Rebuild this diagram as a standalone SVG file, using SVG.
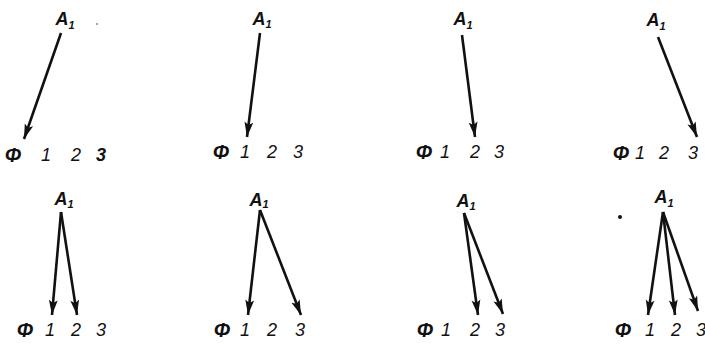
<svg xmlns="http://www.w3.org/2000/svg" width="705" height="345" viewBox="0 0 705 345">
<style>
text{font-family:"Liberation Sans","DejaVu Sans",sans-serif;font-style:italic;fill:#111;text-anchor:middle}
.a{font-size:18px;font-weight:bold;text-anchor:start}
.a tspan{font-size:11px}
.l{font-size:18px}
.p{font-size:20px;font-weight:bold}
.c line{stroke:#111;stroke-width:2.6;marker-end:url(#ah)}
</style>
<defs>
<marker id="ah" markerUnits="userSpaceOnUse" markerWidth="20" markerHeight="12" viewBox="-16 -6 17 12" refX="0" refY="0" orient="auto">
<path d="M0,0 L-15,-4.4 L-12,0 L-15,4.4 Z" fill="#111"/>
</marker>
</defs>
<rect width="705" height="345" fill="#fff"/>

<!-- Panel 1 -->
<g id="p1-A1"><text class="a" x="55.5" y="25">A<tspan dy="4">1</tspan></text></g>
<g id="p1-labels"><text class="p" x="13" y="162">Φ</text><text class="l" x="46" y="161">1</text><text class="l" x="76" y="161">2</text><text class="l" x="101" y="161" font-weight="bold">3</text></g>
<!-- Panel 2 -->
<g id="p2-A1"><text class="a" x="252.5" y="25">A<tspan dy="3">1</tspan></text></g>
<g id="p2-labels"><text class="p" x="221" y="159">Φ</text><text class="l" x="245" y="158">1</text><text class="l" x="272" y="158">2</text><text class="l" x="298" y="158">3</text></g>
<!-- Panel 3 -->
<g id="p3-A1"><text class="a" x="453.5" y="25">A<tspan dy="4">1</tspan></text></g>
<g id="p3-labels"><text class="p" x="424" y="159">Φ</text><text class="l" x="445" y="158">1</text><text class="l" x="475" y="158">2</text><text class="l" x="499" y="158">3</text></g>
<!-- Panel 4 -->
<g id="p4-A1"><text class="a" x="646.5" y="26">A<tspan dy="4">1</tspan></text></g>
<g id="p4-labels"><text class="p" x="621" y="160">Φ</text><text class="l" x="640" y="159">1</text><text class="l" x="664" y="159">2</text><text class="l" x="693" y="159">3</text></g>
<!-- Panel 5 -->
<g id="p5-A1"><text class="a" x="54.5" y="205">A<tspan dy="3">1</tspan></text></g>
<g id="p5-labels"><text class="p" x="25" y="337">Φ</text><text class="l" x="50" y="336">1</text><text class="l" x="76" y="336">2</text><text class="l" x="101" y="336">3</text></g>
<!-- Panel 6 -->
<g id="p6-A1"><text class="a" x="249.5" y="206">A<tspan dy="2">1</tspan></text></g>
<g id="p6-labels"><text class="p" x="222" y="337">Φ</text><text class="l" x="245" y="336">1</text><text class="l" x="272" y="336">2</text><text class="l" x="300" y="336">3</text></g>
<!-- Panel 7 -->
<g id="p7-A1"><text class="a" x="456.5" y="207">A<tspan dy="3">1</tspan></text></g>
<g id="p7-labels"><text class="p" x="425" y="337">Φ</text><text class="l" x="446" y="336">1</text><text class="l" x="475" y="336">2</text><text class="l" x="500" y="336">3</text></g>
<!-- Panel 8 -->
<g id="p8-A1"><text class="a" x="654.5" y="203">A<tspan dy="4">1</tspan></text></g>
<g id="p8-labels"><text class="p" x="623" y="337">Φ</text><text class="l" x="650" y="336">1</text><text class="l" x="676" y="336">2</text><text class="l" x="701" y="336">3</text></g>

<circle cx="620" cy="217" r="2" fill="#111"/>
<circle cx="97" cy="24" r="0.8" fill="#333"/>

<g id="connectors" class="c">
<line x1="61" y1="33" x2="24" y2="139"/>
<line x1="260" y1="33" x2="247" y2="137"/>
<line x1="462" y1="35" x2="475" y2="137"/>
<line x1="658" y1="37" x2="697" y2="137"/>
<line x1="61" y1="212" x2="52" y2="315"/>
<line x1="61" y1="212" x2="77" y2="315"/>
<line x1="260" y1="210" x2="248" y2="315"/>
<line x1="260" y1="210" x2="301" y2="315"/>
<line x1="464" y1="213" x2="478" y2="315"/>
<line x1="464" y1="213" x2="503" y2="314"/>
<line x1="663" y1="212" x2="648" y2="315"/>
<line x1="663" y1="212" x2="675" y2="315"/>
<line x1="663" y1="212" x2="698" y2="311"/>
</g>
</svg>
